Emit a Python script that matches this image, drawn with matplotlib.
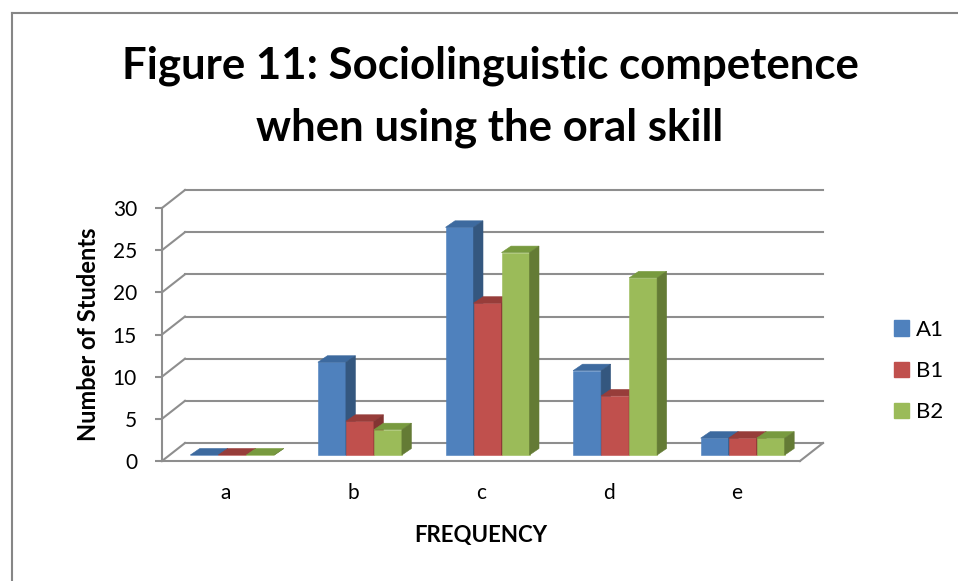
import matplotlib
matplotlib.use("Agg")
import matplotlib.pyplot as plt
from matplotlib.patches import Polygon, Patch
from matplotlib.lines import Line2D

# data
categories = ["a", "b", "c", "d", "e"]
series = ["A1", "B1", "B2"]
a1 = [0, 11, 27, 10, 2]
b1 = [0, 4, 18, 7, 2]
b2 = [0, 3, 24, 21, 2]
yticks = [0, 5, 10, 15, 20, 25, 30]
title_lines = ["Figure 11: Sociolinguistic competence", "when using the oral skill"]

front = ["#4F81BD", "#C0504D", "#9BBB59"]
top = ["#3D6A9F", "#973D3A", "#789A3F"]
side = ["#34577F", "#833432", "#647B35"]
gray = "#8e8e8e"

W, H = 958, 581
plt.rcParams["font.family"] = ["Lato", "DejaVu Sans"]
fig = plt.figure(figsize=(W / 100, H / 100), dpi=100)

# front plane of the floor (pixels)
L, R, B, T = 162, 800, 461, 208
ax = fig.add_axes([L / W, 1 - B / H, (R - L) / W, (B - T) / H])
ax.set_xlim(-0.5, 4.5)
ax.set_ylim(0, 30)
sx = (R - L) / 5
sy = (B - T) / 30

def px(dx, dy):
    return dx / sx, dy / sy

wall_dx, wall_dy = px(23, 18)     # back wall
plane_dx, plane_dy = px(6.5, 6)   # where the bars stand
depth_dx, depth_dy = px(9.5, 6.5) # bar depth
bw = 28 / sx

# walls / gridlines
for v in yticks:
    ax.plot([-0.5, -0.5 + wall_dx], [v, v + wall_dy], color=gray, lw=1.5, clip_on=False, zorder=1)
    ax.plot([-0.5 + wall_dx, 4.5 + wall_dx], [v + wall_dy] * 2, color=gray, lw=1.5, clip_on=False, zorder=1)
ax.plot([4.5, 4.5 + wall_dx], [0, wall_dy], color=gray, lw=1.5, clip_on=False, zorder=1)

# bars
for s, vals in enumerate([a1, b1, b2]):
    xs = [i - 1.5 * bw + s * bw + plane_dx for i in range(len(categories))]
    ax.bar(xs, vals, width=bw, bottom=plane_dy, align="edge", color=front[s],
           edgecolor=front[s], lw=0.4, zorder=3 + s, clip_on=False)
    for x, v in zip(xs, vals):
        y0, y1 = plane_dy, plane_dy + v
        ax.add_patch(Polygon([(x, y1), (x + bw, y1), (x + bw + depth_dx, y1 + depth_dy),
                              (x + depth_dx, y1 + depth_dy)],
                             fc=top[s], ec=top[s], lw=0.4, zorder=3 + s, clip_on=False))
        ax.add_patch(Polygon([(x + bw, y0), (x + bw + depth_dx, y0 + depth_dy),
                              (x + bw + depth_dx, y1 + depth_dy), (x + bw, y1)],
                             fc=side[s], ec=side[s], lw=0.4, zorder=3 + s, clip_on=False))

for sp in ["top", "right"]:
    ax.spines[sp].set_visible(False)
for sp in ["left", "bottom"]:
    ax.spines[sp].set_color(gray)
    ax.spines[sp].set_linewidth(1.5)
ax.set_facecolor("none")

ax.set_yticks(yticks)
ax.set_xticks(range(len(categories)), categories)
ax.tick_params(axis="y", length=5, width=1.5, color=gray, pad=13, labelsize=15)
ax.tick_params(axis="x", length=0, pad=16, labelsize=15)
ax.set_ylabel("Number of Students", fontsize=17, fontweight="bold", labelpad=9)
ax.set_xlabel("FREQUENCY", fontsize=16, fontweight="bold", labelpad=16)

handles = [Patch(color=c, label=l) for c, l in zip(front, series)]
fig.legend(handles=handles, loc="center left", bbox_to_anchor=(894 / W, 1 - 371 / H),
           frameon=False, fontsize=16, handlelength=0.68, handleheight=0.68,
           handletextpad=0.3, labelspacing=0.95, borderpad=0, borderaxespad=0)

fig.text(490 / W, 1 - 78 / H, title_lines[0], ha="center", va="baseline",
         fontsize=31.5, fontweight="bold")
fig.text(490 / W, 1 - 140 / H, title_lines[1], ha="center", va="baseline",
         fontsize=31.5, fontweight="bold")

# chart border
fig.add_artist(Line2D([11.5 / W, 11.5 / W], [0, 1 - 13 / H], transform=fig.transFigure,
                      color="#868686", lw=1.5))
fig.add_artist(Line2D([11.5 / W, 1], [1 - 13 / H, 1 - 13 / H], transform=fig.transFigure,
                      color="#868686", lw=1.5))

fig.savefig("out.png", dpi=100)
